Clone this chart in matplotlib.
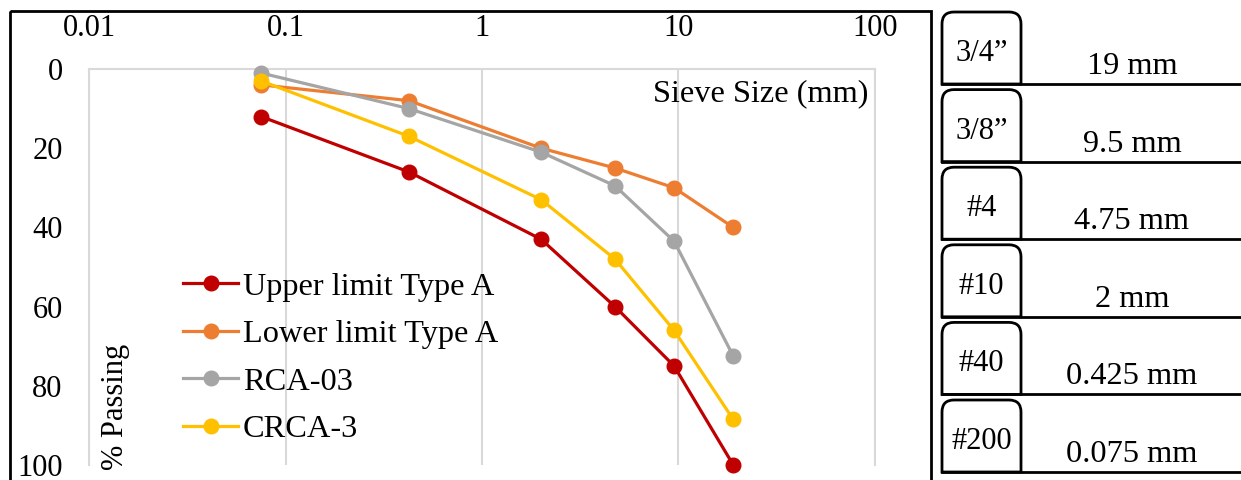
import matplotlib
matplotlib.use("Agg")
import matplotlib.pyplot as plt
from matplotlib.path import Path
from matplotlib.patches import PathPatch, Rectangle
from matplotlib.lines import Line2D
from matplotlib.transforms import Affine2D
from matplotlib.ticker import NullLocator

# MARK: - Data
sieve_mm = [0.075, 0.425, 2, 4.75, 9.5, 19]
sieve_names = ["#200", "#40", "#10", "#4", "3/8\u201d", "3/4\u201d"]

upper_limit_a = [12, 26, 43, 60, 75, 100]
lower_limit_a = [4, 8, 20, 25, 30, 40]
rca_03 = [1, 10, 21, 29.5, 43.5, 72.5]
crca_3 = [3, 17, 33, 48, 66, 88.5]

series_names = ["Upper limit Type A", "Lower limit Type A", "RCA-03", "CRCA-3"]
series_colors = ["#C00000", "#ED7D31", "#A5A5A5", "#FFC000"]

x_ticks = [0.01, 0.1, 1, 10, 100]
x_tick_labels = ["0.01", "0.1", "1", "10", "100"]
y_ticks = [0, 20, 40, 60, 80, 100]

W, H = 1241, 480
FONT = 22
BIG = 23.3

plt.rcParams["font.family"] = ["Liberation Serif", "DejaVu Serif"]
plt.rcParams["font.size"] = FONT


def main():
    fig = plt.figure(figsize=(W / 100, H / 100), dpi=100)
    # pixel coordinates with y going down
    px = Affine2D().scale(1 / W, -1 / H).translate(0, 1) + fig.transFigure

    # outer chart border
    fig.patches.append(Rectangle((10, 11), 921, 500, transform=px, fill=False,
                                 edgecolor="black", linewidth=2))

    ax = fig.add_axes([89 / W, 1 - 465 / H, 786 / W, 396 / H])
    ax.set_xscale("log")
    ax.set_xlim(0.01, 100)
    ax.set_ylim(100, 0)
    ax.xaxis.tick_top()
    ax.set_xticks(x_ticks)
    ax.set_xticklabels(x_tick_labels)
    ax.xaxis.set_minor_locator(NullLocator())
    ax.set_yticks(y_ticks)
    ax.tick_params(axis="x", length=0, pad=19)
    ax.tick_params(axis="y", length=0, pad=19)
    ax.grid(axis="x", color="#D9D9D9", linewidth=1.5)
    ax.spines["bottom"].set_visible(False)
    for s in ["top", "left", "right"]:
        ax.spines[s].set_color("#D9D9D9")
        ax.spines[s].set_linewidth(1.5)

    all_series = [upper_limit_a, lower_limit_a, rca_03, crca_3]
    for values, name, color in zip(all_series, series_names, series_colors):
        ax.plot(sieve_mm, values, color=color, linewidth=2.3, marker="o",
                markersize=10.5, label=name, zorder=3, clip_on=False)

    fig.text(868, 94, "Sieve Size (mm)", transform=px, ha="right",
             va="center", fontsize=BIG)
    fig.text(115, 407, "% Passing", transform=px, rotation=90, ha="center",
             va="center", fontsize=FONT)

    ax.legend(loc="upper left", bbox_to_anchor=(183, 272), bbox_transform=px,
              frameon=False, borderpad=0, borderaxespad=0, handlelength=1.7,
              handletextpad=0.15, labelspacing=0.55, fontsize=BIG)

    # MARK: sieve table on the right
    left, right, radius = 942, 1021, 12
    for i, (name, size) in enumerate(zip(sieve_names[::-1], sieve_mm[::-1])):
        top = 12 + i * 77.6
        bottom = top + 72
        verts = [(left, bottom), (left, top + radius), (left, top), (left + radius, top),
                 (right - radius, top), (right, top), (right, top + radius),
                 (right, bottom), (left, bottom)]
        codes = [Path.MOVETO, Path.LINETO, Path.CURVE3, Path.CURVE3, Path.LINETO,
                 Path.CURVE3, Path.CURVE3, Path.LINETO, Path.CLOSEPOLY]
        fig.patches.append(PathPatch(Path(verts, codes), transform=px, facecolor="white",
                                     edgecolor="black", linewidth=2))
        fig.lines.append(Line2D([left, W], [bottom, bottom], transform=px,
                                color="black", linewidth=2))
        fig.text((left + right) / 2, top + 49, name, transform=px, ha="center",
                 va="baseline", fontsize=FONT)
        fig.text(1132, top + 62, f"{size:g} mm", transform=px, ha="center",
                 va="baseline", fontsize=BIG)

    fig.savefig("out.png", dpi=100)


if __name__ == "__main__":
    main()
